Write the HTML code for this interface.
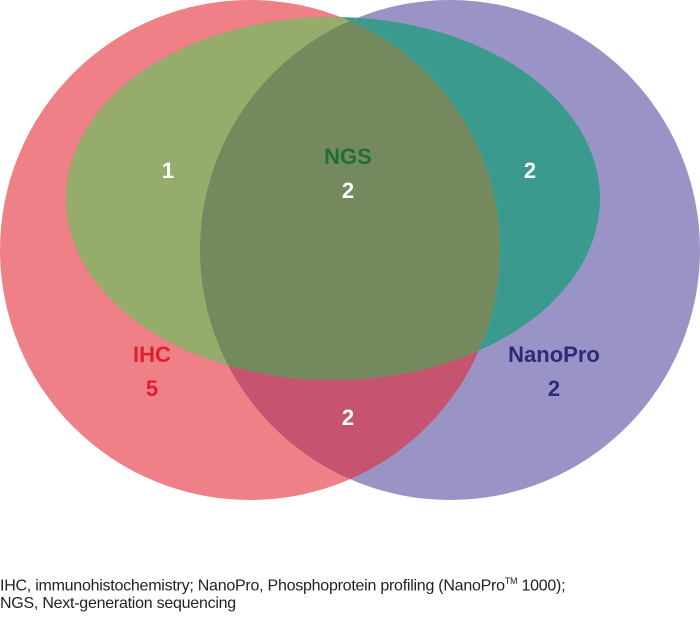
<!DOCTYPE html>
<html><head><style>
body{margin:0;background:#fff;width:700px;height:623px;overflow:hidden;font-family:"Liberation Sans",Arial,sans-serif}
.cap{position:absolute;left:0;font-size:16px;color:#222;letter-spacing:-0.25px;white-space:nowrap}
</style></head><body>
<svg width="700" height="540" style="position:absolute;left:0;top:0">
<defs>
<clipPath id="cI"><circle cx="250" cy="250" r="250"/></clipPath>
<clipPath id="cN"><circle cx="450" cy="250" r="250"/></clipPath>
</defs>
<circle cx="250" cy="250" r="250" fill="#ef8087"/>
<circle cx="450" cy="250" r="250" fill="#9a93c6"/>
<circle cx="450" cy="250" r="250" fill="#c65470" clip-path="url(#cI)"/>
<ellipse cx="333" cy="198.5" rx="267" ry="181.5" fill="#3a9a8e"/>
<ellipse cx="333" cy="198.5" rx="267" ry="181.5" fill="#95ac6a" clip-path="url(#cI)"/>
<g clip-path="url(#cI)"><ellipse cx="333" cy="198.5" rx="267" ry="181.5" fill="#74895e" clip-path="url(#cN)"/></g>
<g font-weight="bold" font-size="22" text-anchor="middle" fill="#fff">
<text x="168" y="178">1</text>
<text x="348" y="164" fill="#1f6e3a">NGS</text>
<text x="348" y="198">2</text>
<text x="530" y="178">2</text>
<text x="152" y="362" fill="#e0202e">IHC</text>
<text x="152" y="396" fill="#e0202e">5</text>
<text x="348" y="425">2</text>
<text x="554" y="362" fill="#2e2a78">NanoPro</text>
<text x="554" y="396" fill="#2e2a78">2</text>
</g>
</svg>
<div class="cap" style="top:576px">IHC, immunohistochemistry; NanoPro, Phosphoprotein profiling (NanoPro<sup style="font-size:9px">TM</sup> 1000);</div>
<div class="cap" style="top:595px">NGS, Next-generation sequencing</div>
</body></html>
